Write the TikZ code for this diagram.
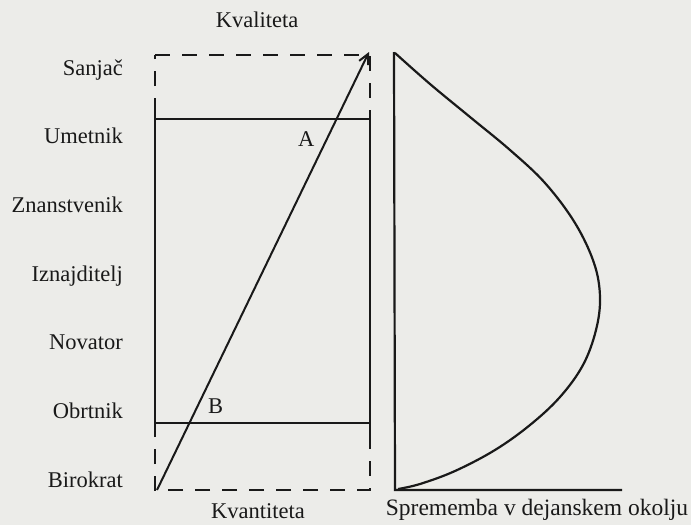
\documentclass[tikz,border=0pt]{standalone}
\usepackage{fontspec}
\setmainfont{Liberation Serif}
\usepackage{tikz}
\usetikzlibrary{arrows.meta, positioning, calc}
\definecolor{cPaper}{RGB}{236,236,233}
\definecolor{cInk}{RGB}{25,25,25}
\tikzset{
	level/.style     ={anchor=base east, inner sep=0pt, text=cInk, font=\fontsize{22.5}{27}\selectfont},
	axislabel/.style ={anchor=base, inner sep=0pt, text=cInk, font=\fontsize{22.5}{27}\selectfont},
	point/.style     ={anchor=base west, inner sep=0pt, text=cInk, font=\fontsize{22.5}{27}\selectfont},
	% frame styles
	dashbox/.style   ={cInk, line width=2.2pt, dash pattern=on 15pt off 12pt},
	solidline/.style ={cInk, line width=2.2pt},
	growth/.style    ={-{Straight Barb[length=10pt, width=10pt]}, cInk, line width=2pt},
	% change curve
	axis/.style      ={cInk, line width=2.2pt, line join=miter},
	change/.style    ={cInk, line width=2.2pt, smooth, tension=0.6},
}
\begin{document}
\begin{tikzpicture}[x=1pt, y=-1pt]
	\fill[cPaper] (0,0) rectangle (691,525);
	\useasboundingbox (0,0) rectangle (691,525);
	% levels
	\foreach \name [count=\i from 0] in {Sanjač, Umetnik, Znanstvenik, Iznajditelj, Novator, Obrtnik, Birokrat}
		\node[level] (lvl\i) at (123, 75+68.67*\i) {\name};
	% quality / quantity frame
	\coordinate (qTL) at (155,55);
	\coordinate (qTR) at (370,55);
	\coordinate (qBL) at (155,490);
	\coordinate (qBR) at (370,490);
	\draw[dashbox] (qTL) -- (qTR) -- (qBR) -- (qBL) -- cycle;
	\coordinate (aL) at (155,119);
	\coordinate (aR) at (370,119);
	\coordinate (bL) at (155,423);
	\coordinate (bR) at (370,423);
	\draw[solidline] (aL) -- (aR);
	\draw[solidline] (bL) -- (bR);
	\draw[solidline] ($(aL)+(0,-12)$) -- ($(bL)+(0,9)$);
	\draw[solidline] ($(aR)+(0,-2)$) -- ($(bR)+(0,13)$);
	\draw[growth] ($(qBL)+(2,0)$) -- ($(qTR)+(-1,-3)$);
	\node[point] (ptA) at (298,146) {A};
	\node[point] (ptB) at (208,413) {B};
	\node[axislabel] (kval) at (257,27) {Kvaliteta};
	\node[axislabel] (kvan) at (258,518) {Kvantiteta};
	% change in the real environment
	\coordinate (sTop) at (394,52);
	\coordinate (sO) at (395,490);
	\coordinate (sEnd) at (622,490);
	\draw[axis] (sTop) -- (sO) -- (sEnd);
	\draw[change] plot coordinates {(395,53) (430,84) (470,117) (510,150) (545,183) (575,223) (594,263) (600,297) (596,330) (583,365) (560,397) (530,425) (495,450) (455,471) (420,484) (398,489)};
	\node[axislabel, font=\fontsize{23.5}{28}\selectfont] (env) at (537,515) {Sprememba v dejanskem okolju};
\end{tikzpicture}
\end{document}
